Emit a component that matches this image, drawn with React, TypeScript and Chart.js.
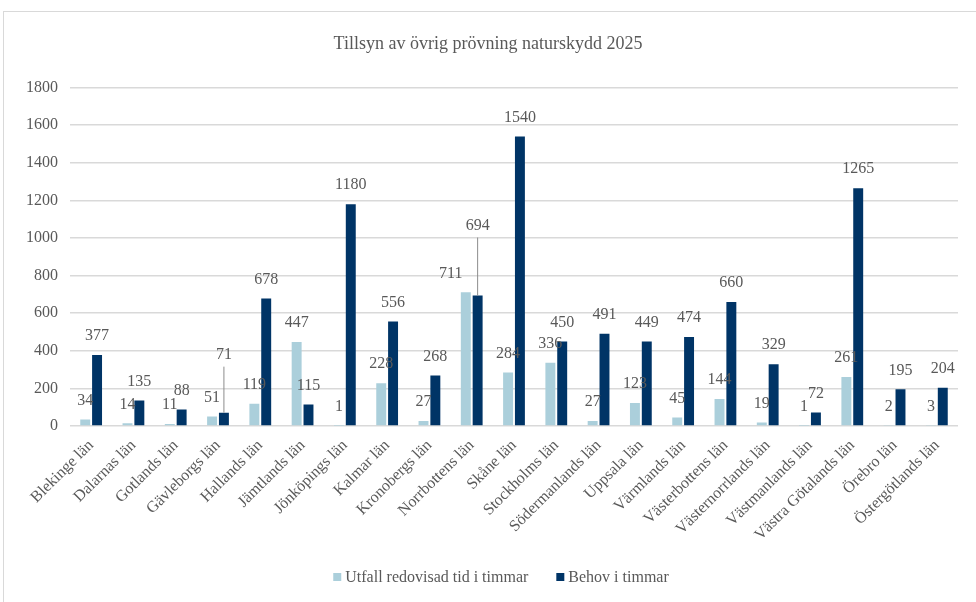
import { useEffect, useRef } from "react";
import { Chart, registerables } from "chart.js";

Chart.register(...registerables);

const counties = [
  "Blekinge län",
  "Dalarnas län",
  "Gotlands län",
  "Gävleborgs län",
  "Hallands län",
  "Jämtlands län",
  "Jönköpings län",
  "Kalmar län",
  "Kronobergs län",
  "Norrbottens län",
  "Skåne län",
  "Stockholms län",
  "Södermanlands län",
  "Uppsala län",
  "Värmlands län",
  "Västerbottens län",
  "Västernorrlands län",
  "Västmanlands län",
  "Västra Götalands län",
  "Örebro län",
  "Östergötlands län",
];

const utfallTimmar = [34, 14, 11, 51, 119, 447, 1, 228, 27, 711, 284, 336, 27, 123, 45, 144, 19, 1, 261, 2, 3];
const behovTimmar = [377, 135, 88, 71, 678, 115, 1180, 556, 268, 694, 1540, 450, 491, 449, 474, 660, 329, 72, 1265, 195, 204];

const yMin = 0;
const yMax = 1800;
const yStep = 200;

const FONT = '"Liberation Serif", "Times New Roman", serif';
const TEXT = "#595959";

// Value labels above each bar; a few are lifted with a leader line or nudged sideways.
const valueLabels = {
  id: "valueLabels",
  afterDatasetsDraw(chart: any, _args: any, opts: any) {
    const ctx = chart.ctx;
    ctx.save();
    ctx.font = `${opts.size}px ${FONT}`;
    ctx.fillStyle = opts.color;
    ctx.textAlign = "center";
    ctx.textBaseline = "middle";
    const labels = chart.data.labels as string[];
    chart.data.datasets.forEach((ds: any, di: number) => {
      const meta = chart.getDatasetMeta(di);
      meta.data.forEach((bar: any, i: number) => {
        const name = labels[i];
        const leader = (opts.leaders || []).find((l: any) => l.dataset === di && l.label === name);
        const shift = (opts.shifts || []).find((s: any) => s.dataset === di && s.label === name);
        const x = bar.x + (shift ? shift.dx : 0);
        let y = bar.y - opts.offset;
        if (leader) {
          y = bar.y - leader.lift;
          ctx.save();
          ctx.strokeStyle = "#8c8c8c";
          ctx.lineWidth = 1;
          ctx.beginPath();
          ctx.moveTo(bar.x, y + 12);
          ctx.lineTo(bar.x, bar.y);
          ctx.stroke();
          ctx.restore();
        }
        ctx.fillText(String(ds.data[i]), x, y);
      });
    });
    ctx.restore();
  },
};

// Legend row below the axis: small square swatch followed by the series name.
const bottomLegend = {
  id: "bottomLegend",
  afterDraw(chart: any, _args: any, opts: any) {
    const ctx = chart.ctx;
    ctx.save();
    ctx.font = `${opts.size}px ${FONT}`;
    ctx.textBaseline = "middle";
    ctx.textAlign = "left";
    const items = chart.data.datasets.map((ds: any) => ({
      text: ds.label as string,
      color: ds.backgroundColor as string,
      w: ctx.measureText(ds.label).width,
    }));
    const itemW = (it: any) => opts.box + opts.gap + it.w;
    const total = items.reduce((s: number, it: any) => s + itemW(it), 0) + opts.spacing * (items.length - 1);
    let x = opts.centerX - total / 2;
    const y = opts.y;
    items.forEach((it: any) => {
      ctx.fillStyle = it.color;
      ctx.fillRect(x, y - opts.box / 2, opts.box, opts.box);
      ctx.fillStyle = opts.color;
      ctx.fillText(it.text, x + opts.box + opts.gap, y + 1);
      x += itemW(it) + opts.spacing;
    });
    ctx.restore();
  },
};

export default function App() {
  const canvasRef = useRef<HTMLCanvasElement | null>(null);

  useEffect(() => {
    if (!canvasRef.current) return;
    const chart = new Chart(canvasRef.current, {
      type: "bar",
      data: {
        labels: counties,
        datasets: [
          {
            label: "Utfall redovisad tid i timmar",
            data: utfallTimmar,
            backgroundColor: "#abcfdb",
            categoryPercentage: 0.56,
            barPercentage: 0.84,
          },
          {
            label: "Behov i timmar",
            data: behovTimmar,
            backgroundColor: "#003466",
            categoryPercentage: 0.56,
            barPercentage: 0.84,
          },
        ],
      },
      plugins: [valueLabels, bottomLegend],
      options: {
        animation: false,
        responsive: false,
        maintainAspectRatio: false,
        layout: { padding: { top: 0, right: 9, bottom: 56, left: 9 } },
        scales: {
          x: {
            grid: { display: false },
            border: { display: false },
            ticks: {
              color: TEXT,
              font: { family: FONT, size: 16 },
              minRotation: 45,
              maxRotation: 45,
              autoSkip: false,
              padding: 2,
            },
            afterFit(scale: any) {
              scale.height = 120;
            },
          },
          y: {
            min: yMin,
            max: yMax,
            grid: { color: "#d9d9d9", lineWidth: 1.5, drawTicks: false },
            border: { display: false },
            ticks: {
              stepSize: yStep,
              color: TEXT,
              font: { family: FONT, size: 16 },
              padding: 12,
              callback: (v: any) => String(v),
            },
            afterFit(scale: any) {
              scale.width = 61;
            },
          },
          yRight: {
            position: "right",
            min: yMin,
            max: yMax,
            grid: { display: false },
            border: { display: false },
            ticks: { display: false },
            afterFit(scale: any) {
              scale.width = 9;
            },
          },
        },
        plugins: {
          title: {
            display: true,
            text: "Tillsyn av övrig prövning naturskydd 2025",
            color: TEXT,
            font: { family: FONT, size: 18, weight: "normal" },
            padding: { top: 33, bottom: 33 },
          },
          legend: { display: false },
          tooltip: { enabled: false },
          valueLabels: {
            size: 16,
            color: TEXT,
            offset: 19,
            leaders: [
              { dataset: 1, label: "Gävleborgs län", lift: 58 },
              { dataset: 1, label: "Norrbottens län", lift: 70 },
            ],
            shifts: [{ dataset: 0, label: "Norrbottens län", dx: -15 }],
          },
          bottomLegend: {
            size: 16,
            color: TEXT,
            box: 8,
            gap: 4,
            spacing: 28,
            centerX: 501,
            y: 577,
          },
        } as any,
      },
    });
    return () => chart.destroy();
  }, []);

  return (
    <div style={{ position: "absolute", left: 0, top: 0, width: 976, height: 602, overflow: "hidden", background: "#fff" }}>
      <div
        style={{
          position: "absolute",
          left: 3,
          top: 11,
          width: 990,
          height: 620,
          border: "1px solid #d9d9d9",
        }}
      />
      <canvas ref={canvasRef} width={976} height={602} style={{ position: "absolute", left: 0, top: 0 }} />
    </div>
  );
}
